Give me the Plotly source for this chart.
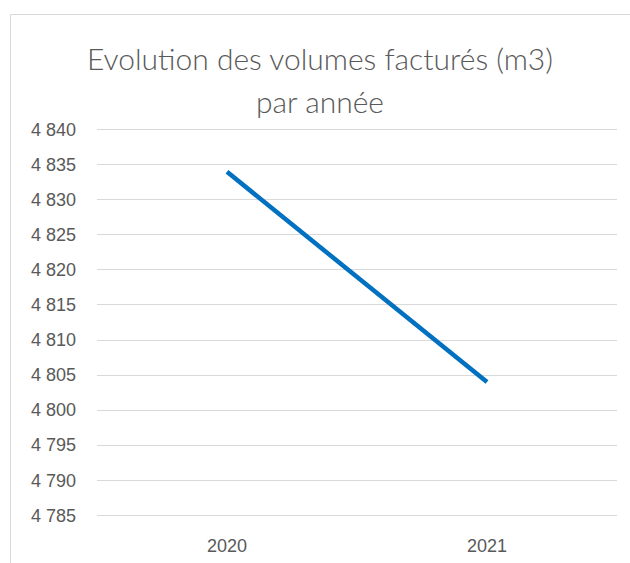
import plotly.graph_objects as go

years = ["2020", "2021"]
volumes = [4834, 4804]
y_min, y_max, y_step = 4785, 4840, 5
title_line1 = "Evolution des volumes facturés (m3)"
title_line2 = "par année"

W, H = 630, 563
L, R, T, B = 97, 13, 128, 46
pw, ph = W - L - R, H - T - B

def px_x(px):
    return (px - L) / pw

def px_y(py):
    return (H - B - py) / ph

fig = go.Figure()
fig.add_trace(go.Scatter(
    x=years, y=volumes, mode="lines",
    line=dict(color="#0070C0", width=4.5),
    hoverinfo="x+y", showlegend=False,
))

grey_txt = "#595959"
tick_font = dict(family="Liberation Sans, Arial, sans-serif", size=18, color=grey_txt)
title_font = dict(family="Lato, Open Sans, sans-serif", size=30, color=grey_txt, weight=300)

eps = 0.25
fig.update_layout(
    width=W, height=H, autosize=False,
    margin=dict(l=L, r=R, t=T, b=B, pad=0, autoexpand=False),
    paper_bgcolor="white", plot_bgcolor="white",
    separators=", ",
    xaxis=dict(
        type="category", range=[-0.5, 1.5], automargin=False,
        showgrid=False, zeroline=False,
        showline=False,
        ticks="", tickfont=tick_font, ticklabelstandoff=16,
    ),
    yaxis=dict(
        range=[y_min - eps, y_max + eps], dtick=y_step, tick0=y_min,
        tickformat=",d", automargin=False,
        showgrid=True, gridcolor="#D9D9D9", gridwidth=1,
        zeroline=False, showline=False,
        ticks="", tickfont=tick_font, ticklabelstandoff=20,
    ),
    annotations=[
        dict(text=title_line1, xref="paper", yref="paper",
             x=px_x(320), y=px_y(58), xanchor="center", yanchor="middle",
             showarrow=False, font=title_font),
        dict(text=title_line2, xref="paper", yref="paper",
             x=px_x(320), y=px_y(101), xanchor="center", yanchor="middle",
             showarrow=False, font=title_font),
    ],
    shapes=[
        dict(type="line", xref="paper", yref="paper",
             x0=px_x(10.5), x1=px_x(10.5), y0=px_y(600), y1=px_y(14.5),
             line=dict(color="#D9D9D9", width=1)),
        dict(type="line", xref="paper", yref="paper",
             x0=px_x(10.5), x1=px_x(640), y0=px_y(14.5), y1=px_y(14.5),
             line=dict(color="#D9D9D9", width=1)),
    ],
)

fig.write_html("out.html", config={"displayModeBar": False},
               post_script="document.body.style.margin='0';")
